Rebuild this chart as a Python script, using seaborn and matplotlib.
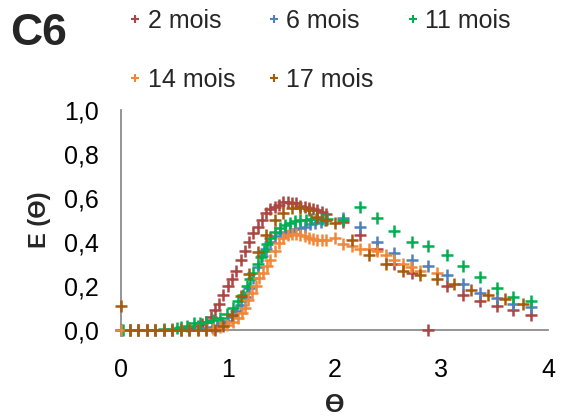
import matplotlib
matplotlib.use("Agg")
import matplotlib.pyplot as plt
import seaborn as sns
import pandas as pd
from matplotlib.lines import Line2D
from matplotlib.ticker import FuncFormatter

sns.set_style("white")
plt.rcParams['font.family'] = ['Liberation Sans', 'DejaVu Sans']

# ---- data ----
labels = ["2 mois", "6 mois", "11 mois", "14 mois", "17 mois"]
colors = ["#AA4643", "#4F81BD", "#00B050", "#F0883A", "#A65A0E"]

x_2 = [0.0, 0.08, 0.16, 0.24, 0.32, 0.40, 0.48, 0.56, 0.64, 0.72, 0.76, 0.80, 0.84, 0.88, 0.92,
       0.96, 1.00, 1.04, 1.08, 1.12, 1.16, 1.20, 1.24, 1.28, 1.32, 1.36, 1.40, 1.44, 1.48, 1.52,
       1.56, 1.60, 1.64, 1.68, 1.72, 1.76, 1.80, 1.84, 1.88, 1.92,
       2.08, 2.24, 2.40, 2.56, 2.73, 2.88, 3.05, 3.20, 3.36, 3.52, 3.67, 3.84]
y_2 = [0.0, 0.0, 0.0, 0.0, 0.0, 0.0, 0.0, 0.005, 0.01, 0.02, 0.028, 0.037, 0.06, 0.09, 0.12,
       0.16, 0.20, 0.23, 0.27, 0.32, 0.36, 0.40, 0.44, 0.47, 0.50, 0.53, 0.55, 0.56, 0.57, 0.58,
       0.58, 0.576, 0.575, 0.565, 0.56, 0.555, 0.55, 0.545, 0.535, 0.525,
       0.49, 0.43, 0.37, 0.30, 0.26, 0.0, 0.20, 0.16, 0.13, 0.11, 0.09, 0.07]

x_6 = [0.0, 0.08, 0.16, 0.24, 0.32, 0.40, 0.48, 0.56, 0.64, 0.72, 0.80, 0.85, 0.90, 0.95, 1.00,
       1.04, 1.08, 1.12, 1.16, 1.20, 1.24, 1.28, 1.32, 1.36, 1.40, 1.44, 1.49, 1.54, 1.58, 1.63,
       1.68, 1.72, 1.77, 1.82, 1.87, 1.91,
       2.08, 2.24, 2.40, 2.56, 2.73, 2.88, 3.05, 3.20, 3.36, 3.52, 3.67, 3.84]
y_6 = [0.0, 0.0, 0.0, 0.0, 0.0, 0.0, 0.0, 0.0, 0.0, 0.005, 0.01, 0.015, 0.02, 0.03, 0.04,
       0.06, 0.085, 0.115, 0.15, 0.19, 0.235, 0.285, 0.335, 0.37, 0.40, 0.425, 0.44, 0.445, 0.45, 0.46,
       0.465, 0.47, 0.48, 0.485, 0.49, 0.50,
       0.51, 0.47, 0.40, 0.35, 0.32, 0.29, 0.25, 0.21, 0.17, 0.145, 0.12, 0.105]

x_11 = [0.02, 0.08, 0.16, 0.24, 0.32, 0.40, 0.48, 0.52, 0.56, 0.62, 0.68, 0.74, 0.80, 0.86, 0.93,
        0.99, 1.05, 1.10, 1.14, 1.18, 1.21, 1.24, 1.28, 1.31, 1.34, 1.37, 1.40, 1.44, 1.49, 1.54,
        1.58, 1.63, 1.68, 1.73, 1.78, 1.83, 1.88, 1.93,
        2.08, 2.24, 2.40, 2.56, 2.73, 2.88, 3.05, 3.20, 3.36, 3.52, 3.67, 3.84]
y_11 = [0.0, 0.0, 0.0, 0.0, 0.0, 0.005, 0.005, 0.01, 0.015, 0.02, 0.03, 0.03, 0.037, 0.045, 0.055,
        0.075, 0.10, 0.13, 0.16, 0.20, 0.23, 0.26, 0.30, 0.33, 0.36, 0.39, 0.42, 0.445, 0.465, 0.475,
        0.485, 0.495, 0.50, 0.50, 0.505, 0.505, 0.505, 0.505,
        0.50, 0.56, 0.51, 0.45, 0.40, 0.38, 0.34, 0.29, 0.24, 0.19, 0.15, 0.13]

x_14 = [0.0, 0.08, 0.16, 0.24, 0.32, 0.40, 0.48, 0.56, 0.64, 0.72, 0.80, 0.86, 0.93, 0.99, 1.05,
        1.10, 1.13, 1.16, 1.19, 1.23, 1.26, 1.29, 1.33, 1.37, 1.40, 1.44, 1.48, 1.52, 1.56, 1.60,
        1.64, 1.68, 1.72, 1.76, 1.80, 1.84, 1.88, 1.92,
        2.00, 2.08, 2.16, 2.24, 2.32, 2.40, 2.48, 2.56, 2.64, 2.72, 2.80, 2.96]
y_14 = [0.0, 0.0, 0.0, 0.0, 0.0, 0.0, 0.0, 0.0, 0.0, 0.0, 0.0, 0.005, 0.015, 0.023, 0.037,
        0.053, 0.077, 0.10, 0.135, 0.17, 0.20, 0.235, 0.26, 0.29, 0.32, 0.36, 0.395, 0.42, 0.43, 0.435,
        0.435, 0.43, 0.425, 0.42, 0.415, 0.41, 0.41, 0.41,
        0.42, 0.39, 0.38, 0.37, 0.37, 0.36, 0.34, 0.32, 0.30, 0.285, 0.27, 0.26]

x_17 = [0.0, 0.08, 0.16, 0.24, 0.32, 0.40, 0.48, 0.56, 0.64, 0.72, 0.80, 0.88, 0.96, 1.04, 1.12,
        1.20, 1.28, 1.36, 1.44, 1.52, 1.60, 1.68, 1.76, 1.84, 1.92, 2.00,
        2.16, 2.32, 2.48, 2.64, 2.80, 2.96, 3.12, 3.28, 3.44, 3.60, 3.77]
y_17 = [0.11, 0.0, 0.0, 0.0, 0.0, 0.0, 0.0, 0.0, 0.0, 0.0, 0.0, 0.0, 0.02, 0.07, 0.155,
        0.255, 0.355, 0.43, 0.50, 0.53, 0.555, 0.555, 0.545, 0.515, 0.50, 0.485,
        0.41, 0.34, 0.30, 0.27, 0.25, 0.23, 0.21, 0.18, 0.16, 0.14, 0.12]

series_x = [x_2, x_6, x_11, x_14, x_17]
series_y = [y_2, y_6, y_11, y_14, y_17]

rows = []
for lab, xs, ys in zip(labels, series_x, series_y):
    for a, b in zip(xs, ys):
        rows.append({"theta": a, "E": b, "age": lab})
df = pd.DataFrame(rows)

y_ticks = [0.0, 0.2, 0.4, 0.6, 0.8, 1.0]
x_ticks = [0, 1, 2, 3, 4]

# ---- figure ----
fig = plt.figure(figsize=(5.75, 4.17), dpi=100)
ax = fig.add_axes([121 / 575, 87 / 417, 427 / 575, 220 / 417])

for lab, col in zip(labels, colors):
    sub = df[df["age"] == lab]
    sns.scatterplot(data=sub, x="theta", y="E", color=col, marker="+", s=64,
                    linewidth=1.8, ax=ax, clip_on=False, zorder=3, legend=False)

ax.set_xlim(0, 4)
ax.set_ylim(0, 1.0)
ax.set_xticks(x_ticks)
ax.set_yticks(y_ticks)
ax.yaxis.set_major_formatter(FuncFormatter(lambda v, p: f"{v:.1f}".replace(".", ",")))
ax.xaxis.set_major_formatter(FuncFormatter(lambda v, p: f"{v:.0f}"))

for s in ["top", "right"]:
    ax.spines[s].set_visible(False)
for s in ["left", "bottom"]:
    ax.spines[s].set_color("#8C8C8C")
    ax.spines[s].set_linewidth(1.3)
ax.tick_params(axis="both", direction="out", length=7, width=1.3, color="#8C8C8C",
               labelsize=18, labelcolor="black")
ax.tick_params(axis="y", pad=9)
ax.tick_params(axis="x", pad=13)
ax.grid(False)

ax.set_xlabel("Ɵ", fontsize=18, fontweight="bold")
ax.set_ylabel("E (Ɵ)", fontsize=17, fontweight="bold")
ax.xaxis.set_label_coords(0.5, -0.285)
ax.yaxis.set_label_coords(-0.165, 0.5)

fig.text(10 / 575, 1 - 13 / 417, "C6", fontsize=32, fontweight="bold", va="top", ha="left")

handles = [Line2D([], [], linestyle="none", marker="+", markersize=6, markeredgewidth=1.5,
                  color=c) for c in colors]
order = [0, 3, 1, 4, 2]
fig.legend([handles[i] for i in order], [labels[i] for i in order], ncol=3,
           loc="upper left", bbox_to_anchor=(129 / 575, 1 - 9 / 417), frameon=False,
           fontsize=18, handlelength=0.5, handletextpad=0.25, columnspacing=1.3,
           labelspacing=1.4, borderaxespad=0, borderpad=0)

fig.savefig("out.png", dpi=100)
